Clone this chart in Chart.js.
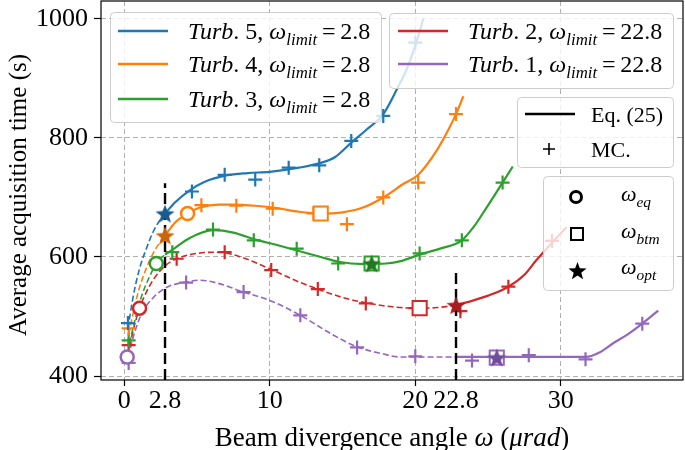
<!DOCTYPE html>
<html>
<head>
<meta charset="utf-8">
<script src="https://cdn.jsdelivr.net/npm/chart.js@4.4.1/dist/chart.umd.min.js"></script>
<style>html,body{margin:0;padding:0;background:#fff}</style>
</head>
<body>
<canvas id="acq" width="685" height="450"></canvas>
<script>
// beam divergence (urad) -> average acquisition time (s)
const xTicks = [0, 2.8, 10, 20, 22.8, 30];
const yTicks = [400, 600, 800, 1000];
const limitX = [2.8, 22.8];
const limitTop = [724, 573];

// Turb. 5
const t5DashX = [0.25, 0.6, 1.0, 1.5, 2.0, 2.4, 2.8];
const t5DashY = [480, 532, 576, 613, 643, 660, 673];
const t5LineX = [2.8, 3.5, 4.5, 5.5, 7, 8.5, 10, 12, 13.5, 14.5, 15.6, 16.7, 17.8, 18.7, 19.4, 20, 20.55];
const t5LineY = [673, 692, 712, 726, 737, 741, 743, 750, 758, 768, 792, 815, 840, 880, 915, 955, 1000];
const t5McX = [0.25, 4.65, 6.9, 9.0, 11.3, 13.4, 15.6, 17.8, 20.0];
const t5McY = [489, 710, 738, 730, 750, 754, 795, 837, 960];

// Turb. 4
const t4DashX = [0.3, 0.7, 1.0, 1.5, 2.0, 2.4, 2.8];
const t4DashY = [470, 515, 545, 580, 607, 623, 636];
const t4LineX = [2.8, 3.5, 4.35, 5.2, 6.5, 7.5, 9, 10.5, 12, 13.5, 15, 16.4, 17.8, 19.2, 20.2, 21.5, 22.3, 22.8, 23.3];
const t4LineY = [636, 658, 673, 683, 688, 688, 686, 682, 676, 673, 675, 683, 700, 723, 738, 780, 815, 840, 870];
const t4McX = [0.3, 5.3, 7.7, 10.2, 13.0, 15.3, 17.8, 20.2, 22.8];
const t4McY = [480, 687, 686, 681, 673, 655, 700, 725, 840];

// Turb. 3
const t3DashX = [0.35, 0.8, 1.2, 1.7, 2.2, 2.8];
const t3DashY = [455, 500, 535, 565, 589, 604];
const t3LineX = [2.8, 3.3, 4.5, 6.1, 7.5, 8.9, 10.5, 12, 13.5, 14.7, 16.5, 18, 19, 20.3, 21.7, 23.2, 24, 24.9, 26, 26.7];
const t3LineY = [604, 612, 632, 645, 641, 630, 620, 610, 600, 592, 588, 589, 593, 604, 614, 628, 650, 683, 725, 752];
const t3McX = [0.3, 3.3, 6.1, 8.9, 11.85, 14.7, 17.0, 20.3, 23.2, 26.0];
const t3McY = [460, 608, 646, 628, 614, 589, 590, 606, 628, 725];

// Turb. 2
const t2DashX = [0.35, 0.7, 1.05, 1.5, 2, 2.8, 3.6, 5, 6.5, 8, 10, 12, 13.3, 15, 16.6, 18.5, 20.3, 21.5, 22.8];
const t2DashY = [450, 485, 514, 540, 562, 585, 597, 606, 608, 600, 580, 558, 546, 532, 523, 516, 514, 515, 519];
const t2LineX = [22.8, 24, 25, 26.4, 27.5, 28.3, 29.4, 30.4];
const t2LineY = [519, 527, 535, 550, 570, 594, 624, 650];
const t2McX = [0.3, 3.6, 6.9, 10.1, 13.3, 16.6, 20.0, 23.1, 26.4, 29.4];
const t2McY = [452, 597, 608, 578, 546, 522, 514, 509, 550, 627];

// Turb. 1
const t1DashX = [0.3, 0.5, 0.8, 1.2, 2, 3, 4.25, 5.2, 6.4, 8.2, 10, 12.1, 14.35, 16, 17.8, 18.9, 20, 22.8];
const t1DashY = [432, 455, 480, 505, 532, 550, 558, 561, 556, 541, 527, 502, 469, 449, 437, 432, 432, 432];
const t1LineX = [22.8, 25, 28, 31.75, 32.7, 33.6, 34.6, 35.6, 36.7];
const t1LineY = [432, 432, 432, 432, 440, 455, 470, 488, 510];
const t1McX = [0.3, 4.25, 8.2, 12.1, 16.0, 20.0, 23.9, 27.8, 31.7, 35.6];
const t1McY = [422, 557, 541, 502, 448, 433, 426, 435, 428, 488];

// omega_eq, omega_btm, omega_opt markers
const eqX = [4.35, 2.2, 1.05, 0.2];
const eqY = [673, 589, 514, 432];
const btmX = [13.5, 17.0, 20.3, 25.6];
const btmY = [673, 589, 514, 431];
const optX = [2.8, 2.8, 17.0, 22.8, 25.6];
const optY = [673, 636, 589, 519, 431];

const C = ['#1f77b4', '#ff7f0e', '#2ca02c', '#d62728', '#9467bd'];
const CDark = ['#1b5a8c', '#c9660a', '#1f7a1f', '#a81d1d', '#6e4c99'];
const eqColor = [C[1], C[2], C[3], C[4]];
const btmColor = [C[1], C[2], C[3], C[4]];
const SERIF = "'Liberation Serif', 'Times New Roman', serif";
const Y_MIN = 393.3, Y_MAX = 1030;

function pts(xs, ys) { return xs.map((x, i) => ({x: x, y: ys[i]})); }

function starImg(color, R) {
  const c = document.createElement('canvas');
  c.width = c.height = Math.ceil(R * 2 + 2);
  const g = c.getContext('2d');
  g.beginPath();
  for (let i = 0; i < 10; i++) {
    const r = i % 2 ? R * 0.42 : R;
    const a = -Math.PI / 2 + i * Math.PI / 5;
    g.lineTo(c.width / 2 + r * Math.cos(a), c.width / 2 + 1 + r * Math.sin(a));
  }
  g.closePath();
  g.fillStyle = color;
  g.fill();
  return c;
}

function curve(xs, ys, color, dashed) {
  return {
    data: pts(xs, ys), showLine: true, borderColor: color,
    borderWidth: dashed ? 1.6 : 2.2, borderDash: dashed ? [6, 3] : [],
    pointRadius: 0, cubicInterpolationMode: 'monotone', order: 4
  };
}
function mc(xs, ys, color) {
  return {
    data: pts(xs, ys), showLine: false, pointStyle: 'cross', pointRadius: 7,
    pointBorderWidth: 2.2, pointBorderColor: color, borderColor: color, order: 3
  };
}

const series = [
  [t5DashX, t5DashY, t5LineX, t5LineY, t5McX, t5McY],
  [t4DashX, t4DashY, t4LineX, t4LineY, t4McX, t4McY],
  [t3DashX, t3DashY, t3LineX, t3LineY, t3McX, t3McY],
  [t2DashX, t2DashY, t2LineX, t2LineY, t2McX, t2McY],
  [t1DashX, t1DashY, t1LineX, t1LineY, t1McX, t1McY]
];

const datasets = [];
series.forEach((s, i) => {
  datasets.push(curve(s[0], s[1], C[i], true));
  datasets.push(curve(s[2], s[3], C[i], false));
  datasets.push(mc(s[4], s[5], C[i]));
});
limitX.forEach((x, i) => {
  datasets.push({
    data: [{x: x, y: Y_MIN}, {x: x, y: limitTop[i]}], showLine: true,
    borderColor: '#000', borderWidth: 2.4, borderDash: [11, 5], pointRadius: 0, order: 2
  });
});
datasets.push({
  data: pts(eqX, eqY), showLine: false, pointStyle: 'circle', pointRadius: 6.5,
  pointBorderWidth: 2.5, pointBorderColor: eqColor, pointBackgroundColor: '#fff', order: 1
});
datasets.push({
  data: pts(btmX, btmY), showLine: false, pointStyle: 'rect', pointRadius: 10,
  pointBorderWidth: 2, pointBorderColor: btmColor, pointBackgroundColor: '#fff', order: 1
});
datasets.push({
  data: pts(optX, optY), showLine: false, pointRadius: 9,
  pointStyle: CDark.map(c => starImg(c, 10)), order: 0
});

function rich(ctx, x, y, parts, size) {
  for (const [t, s] of parts) {
    const fs = s === 's' ? size * 0.7 : size;
    ctx.font = (s === 'n' ? '' : 'italic ') + fs + 'px ' + SERIF;
    ctx.fillText(t, x, s === 's' ? y + size * 0.25 : y);
    x += ctx.measureText(t).width;
  }
  return x;
}
function box(ctx, x, y, w, h) {
  ctx.beginPath();
  ctx.roundRect(x + 0.5, y + 0.5, w, h, 4);
  ctx.fillStyle = 'rgba(255,255,255,0.8)';
  ctx.fill();
  ctx.strokeStyle = '#cccccc';
  ctx.lineWidth = 1;
  ctx.stroke();
}
function handle(ctx, x, y, color) {
  ctx.beginPath();
  ctx.moveTo(x, y); ctx.lineTo(x + 50, y);
  ctx.strokeStyle = color; ctx.lineWidth = 2.5; ctx.stroke();
}
function turbText(n, lim) {
  return [['Turb', 'i'], ['. ' + n + ', ', 'n'], ['\u03c9', 'i'], ['limit', 's'], ['\u2009=\u2009' + lim, 'n']];
}

const overlay = {
  id: 'overlay',
  afterDraw(chart) {
    const ctx = chart.ctx, a = chart.chartArea;
    ctx.save();
    // axes frame
    ctx.strokeStyle = '#000'; ctx.lineWidth = 1.2;
    ctx.strokeRect(a.left, a.top, a.right - a.left, a.bottom - a.top);

    ctx.fillStyle = '#000';
    ctx.textBaseline = 'alphabetic';
    const LF = 24;
    // legend: Turb 5,4,3
    box(ctx, 110, 12, 271, 110);
    [[5, 31], [4, 64], [3, 99]].forEach(([n, y], i) => {
      handle(ctx, 118, y, C[i]);
      ctx.fillStyle = '#000';
      rich(ctx, 188, y + 8, turbText(n, '2.8'), LF);
    });
    // legend: Turb 2,1
    box(ctx, 389, 13, 284, 75);
    [[2, 31], [1, 64]].forEach(([n, y], i) => {
      handle(ctx, 398, y, C[3 + i]);
      ctx.fillStyle = '#000';
      rich(ctx, 468, y + 8, turbText(n, '22.8'), LF);
    });
    // legend: Eq. (25) / MC.
    box(ctx, 517, 97, 156, 70);
    handle(ctx, 525, 114, '#000');
    ctx.fillStyle = '#000';
    rich(ctx, 591, 122, [['Eq. (25)', 'n']], 22);
    ctx.beginPath();
    ctx.moveTo(543, 149); ctx.lineTo(555, 149);
    ctx.moveTo(549, 143); ctx.lineTo(549, 155);
    ctx.lineWidth = 1.6; ctx.strokeStyle = '#000'; ctx.stroke();
    rich(ctx, 591, 157, [['MC.', 'n']], 22);
    // legend: markers
    box(ctx, 543, 176, 130, 114);
    ctx.beginPath(); ctx.arc(576, 197, 5.5, 0, Math.PI * 2);
    ctx.lineWidth = 3; ctx.strokeStyle = '#000'; ctx.stroke();
    ctx.lineWidth = 2; ctx.strokeRect(571, 228, 12, 12);
    ctx.drawImage(starImg('#000', 9.5), 567, 260);
    ctx.fillStyle = '#000';
    rich(ctx, 621, 201, [['\u03c9', 'i'], ['eq', 's']], 22);
    rich(ctx, 621, 238, [['\u03c9', 'i'], ['btm', 's']], 22);
    rich(ctx, 621, 274, [['\u03c9', 'i'], ['opt', 's']], 22);

    // axis titles
    const TF = 27;
    const xt = [['Beam divergence angle ', 'n'], ['\u03c9', 'i'], [' (', 'n'], ['\u03bcrad', 'i'], [')', 'n']];
    let w = 0;
    xt.forEach(([t, s]) => { ctx.font = (s === 'n' ? '' : 'italic ') + TF + 'px ' + SERIF; w += ctx.measureText(t).width; });
    rich(ctx, (a.left + a.right) / 2 - w / 2, 446, xt, TF);
    ctx.translate(26, 195);
    ctx.rotate(-Math.PI / 2);
    ctx.font = '25px ' + SERIF;
    ctx.textAlign = 'center';
    ctx.fillText('Average acquisition time (s)', 0, 0);
    ctx.restore();
  }
};

const hidden = v => v === 2.8 || v === 22.8;

new Chart(document.getElementById('acq'), {
  type: 'scatter',
  data: { datasets: datasets },
  options: {
    responsive: false,
    animation: false,
    layout: { autoPadding: false, padding: { top: 1, right: 2, left: 0, bottom: 0 } },
    plugins: { legend: { display: false }, tooltip: { enabled: false } },
    scales: {
      x: {
        type: 'linear', min: -1.6, max: 38.4,
        afterFit: s => { s.height = 70; s.paddingLeft = 0; s.paddingRight = 0; },
        afterBuildTicks: s => { s.ticks = xTicks.map(v => ({value: v})); },
        ticks: {
          autoSkip: false, maxRotation: 0, padding: 0, color: '#000',
          font: { family: SERIF, size: 26 },
          callback: v => String(v)
        },
        grid: {
          color: c => hidden(c.tick && c.tick.value) ? 'rgba(0,0,0,0)' : '#b0b0b0',
          tickColor: c => hidden(c.tick && c.tick.value) ? 'rgba(0,0,0,0)' : '#000',
          tickBorderDash: [], tickLength: 6, lineWidth: 1, tickWidth: 1.2
        },
        border: { display: false, dash: [5, 3] }
      },
      y: {
        min: Y_MIN, max: Y_MAX,
        afterFit: s => { s.width = 101; s.paddingTop = 0; s.paddingBottom = 0; },
        afterBuildTicks: s => { s.ticks = yTicks.map(v => ({value: v})); },
        ticks: { padding: 6, color: '#000', font: { family: SERIF, size: 26 }, callback: v => String(v) },
        grid: {
          color: '#b0b0b0', tickColor: '#000', tickBorderDash: [],
          tickLength: 7, lineWidth: 1, tickWidth: 1.2
        },
        border: { display: false, dash: [5, 3] }
      }
    }
  },
  plugins: [overlay]
});
</script>
</body>
</html>
